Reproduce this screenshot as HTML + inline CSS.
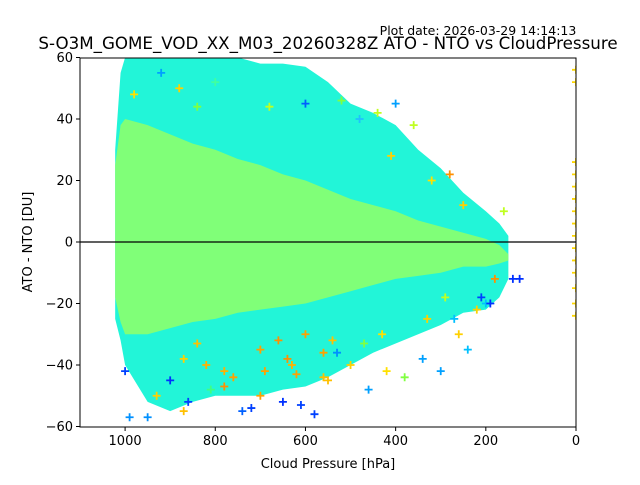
<!DOCTYPE html>
<html><head><meta charset="utf-8"><style>
body{margin:0;background:#fff;width:640px;height:480px;overflow:hidden}
svg{font-family:"DejaVu Sans","Liberation Sans",sans-serif}
</style></head><body>
<svg id="chart" width="640" height="480">
<text x="478" y="35" font-size="12.5" text-anchor="middle">Plot date: 2026-03-29 14:14:13</text>
<text x="328" y="49" font-size="16.7" text-anchor="middle">S-O3M_GOME_VOD_XX_M03_20260328Z ATO - NTO vs CloudPressure</text>
<g id="plot"></g>
<text x="328" y="468" font-size="13" text-anchor="middle">Cloud Pressure [hPa]</text>
<text transform="translate(32,242) rotate(-90)" font-size="13" text-anchor="middle">ATO - NTO [DU]</text>
</svg>
<script>
const binsP=[1022,1010,1000,950,900,850,800,750,700,650,600,550,500,450,400,350,300,250,200,170,150];
const cyanHi=[30,55,60,62,62,62,60,60,58,58,57,52,45,42,38,30,24,16,10,6,2];
const cyanLo=[-25,-32,-40,-52,-55,-52,-50,-50,-50,-48,-47,-44,-40,-36,-33,-30,-27,-23,-22,-18,-12];
const greenHi=[25,38,40,38,35,32,30,27,25,22,20,17,14,12,10,7,5,3,1,-1,-4];
const greenLo=[-18,-26,-30,-30,-28,-26,-25,-23,-22,-21,-20,-18,-16,-14,-12,-11,-10,-8,-8,-7,-6];
const outP=[1000,980,950,920,900,880,860,840,820,800,760,740,700,680,650,620,600,580,550,520,500,480,460,440,420,400,380,360,340,320,300,280,260,240,220,200,180,160,140,125,990,930,870,810,780,720,690,640,610,560,530,470,430,410,330,290,270,250,210,190,700,660,630,600,870,840,780,560,540];
const outV=[-42,48,-57,55,-45,50,-52,44,-40,52,-44,-55,-50,44,-52,-43,45,-56,-45,46,-40,40,-48,42,-42,45,-44,38,-38,20,-42,22,-30,-35,-22,-20,-12,10,-12,-12,-57,-50,-55,-48,-47,-54,-42,-38,-53,-44,-36,-33,-30,28,-25,-18,-25,12,-18,-20,-35,-32,-40,-30,-38,-33,-42,-36,-32];
const outC=["#0040ff","#ffe000","#0090ff","#00a0ff","#0030ff","#ffd000","#0040ff","#80ff40","#ffb000","#40ffa0","#ffa000","#0060ff","#ffa000","#c0ff20","#0030ff","#ffa000","#0060ff","#0040ff","#ffc000","#80ff40","#ffd000","#20c0ff","#00a0ff","#c0ff20","#ffe000","#00a0ff","#80ff40","#c0ff20","#00a0ff","#ffe000","#00a0ff","#ff9000","#ffd000","#00c0ff","#ffd000","#00c0ff","#ff9000","#c0ff20","#0030ff","#0030ff","#0090ff","#ffd000","#ffc000","#40ff80","#ff9000","#0040ff","#ffa000","#ff9000","#0040ff","#ffc000","#0090ff","#80ff40","#ffe000","#ffd000","#ffd000","#c0ff20","#00c0ff","#ffd000","#0040ff","#0030ff","#ffa000","#ff9000","#ffb000","#ffa000","#ffd000","#ffc000","#ffb000","#ffa000","#ffc000"];
const zeroV=[-24,-20,-15,-10,-6,-2,2,6,10,14,18,22,26,56,52];
const xTicks=[1000,800,600,400,200,0];
const yTicks=[60,40,20,0,-20,-40,-60];
const L=80,R=576,T=58,B=427;
const X=p=>L+(1100-p)*(R-L)/1100;
const Y=v=>242-v*(B-T)/120;
const g=document.getElementById('plot');
const NS='http://www.w3.org/2000/svg';
function mk(t,a){const e=document.createElementNS(NS,t);for(const k in a)e.setAttribute(k,a[k]);g.appendChild(e);return e;}
const cp=mk('clipPath',{id:'cp'});const cr=document.createElementNS(NS,'rect');
cr.setAttribute('x',L);cr.setAttribute('y',T);cr.setAttribute('width',R-L);cr.setAttribute('height',B-T);cp.appendChild(cr);
function band(hi,lo,col,name){
 let d='M'+binsP.map((p,i)=>X(p)+','+Y(hi[i])).join(' L');
 d+=' L'+binsP.slice().reverse().map((p,j)=>{const i=binsP.length-1-j;return X(p)+','+Y(lo[i]);}).join(' L')+'Z';
 const e=mk('path',{d:d,fill:col,'clip-path':'url(#cp)'});
 
 
}
band(cyanHi,cyanLo,'#22f5d8','cyan-point-cloud');
band(greenHi,greenLo,'#80ff78','green-point-cloud');
function plus(px,py,c){
 const e=mk('path',{d:`M${px-4},${py}h8M${px},${py-4}v8`,stroke:c,'stroke-width':1.8,'clip-path':'url(#cp)'});
 
 
}
outP.forEach((p,i)=>plus(X(p),Y(outV[i]),outC[i]));
zeroV.forEach(v=>plus(X(0),Y(v),'#ffd800'));
const z=mk('line',{x1:L,x2:R,y1:Y(0),y2:Y(0),stroke:'#000','stroke-width':1.2});


const fr=mk('rect',{x:L,y:T,width:R-L,height:B-T,fill:'none',stroke:'#000','stroke-width':1});


xTicks.forEach(t=>{
 mk('line',{x1:X(t),x2:X(t),y1:B,y2:B+4,stroke:'#000'});
 const e=mk('text',{x:X(t),y:B+18,'font-size':13,'text-anchor':'middle'});e.textContent=t;
 
 
});
yTicks.forEach(t=>{
 mk('line',{x1:L-4,x2:L,y1:Y(t),y2:Y(t),stroke:'#000'});
 const e=mk('text',{x:L-7,y:Y(t)+4.5,'font-size':13,'text-anchor':'end'});e.textContent=t<0?'\u2212'+(-t):t;
 
 
});
</script>
</body></html>
